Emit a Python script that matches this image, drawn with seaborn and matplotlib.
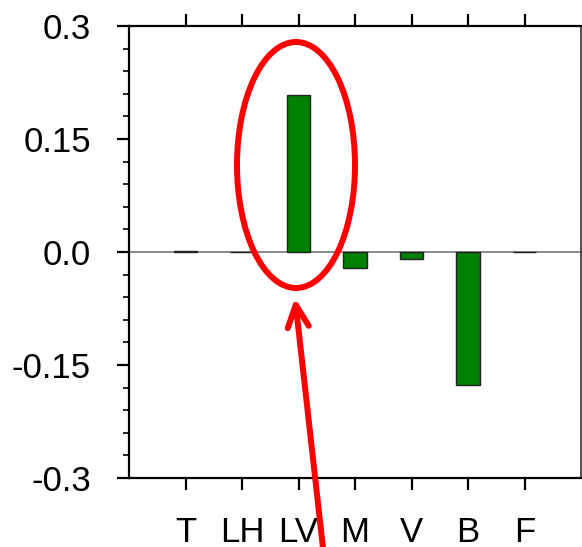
import numpy as np
import pandas as pd
import seaborn as sns
import matplotlib.pyplot as plt
from matplotlib.patches import Ellipse, FancyArrowPatch
from matplotlib.ticker import MultipleLocator

categories = ["T", "LH", "LV", "M", "V", "B", "F"]
values = [0.001, 0.0, 0.209, -0.021, -0.009, -0.177, -0.0005]
y_ticks = [-0.3, -0.15, 0.0, 0.15, 0.3]
y_labels = ["-0.3", "-0.15", "0.0", "0.15", "0.3"]

df = pd.DataFrame({"term": categories, "value": values})

sns.set_style("ticks")
plt.rcParams["font.family"] = ["Liberation Sans", "DejaVu Sans"]
plt.rcParams["text.color"] = "black"
plt.rcParams["xtick.color"] = "black"
plt.rcParams["ytick.color"] = "black"
plt.rcParams["xtick.labelcolor"] = "black"
plt.rcParams["ytick.labelcolor"] = "black"

W, H = 582, 547
fig = plt.figure(figsize=(W / 100, H / 100), dpi=100)
ax = fig.add_axes([129 / W, 1 - 478 / H, 452 / W, 452 / H])

sns.barplot(data=df, x="term", y="value", color="green", saturation=1,
            edgecolor="#222222", linewidth=1.0, width=0.42, ax=ax)

ax.axhline(0, color="#777777", lw=1.2, zorder=0.5)

ax.set_xlim(-1, 7)
ax.set_ylim(-0.3, 0.3)
ax.set_yticks(y_ticks)
ax.set_yticklabels(y_labels)
ax.yaxis.set_minor_locator(MultipleLocator(0.03))
ax.set_xlabel("")
ax.set_ylabel("")

for s in ax.spines.values():
    s.set_visible(True)
    s.set_linewidth(1.6)
    s.set_color("black")
ax.spines["right"].set_linewidth(1.2)
ax.spines["right"].set_color("#333333")

ax.tick_params(axis="x", which="major", direction="out", length=8.5, width=1.6,
               top=True, bottom=True, labelsize=25, pad=19)
ax.tick_params(axis="y", which="major", direction="out", length=8.5, width=1.6,
               left=True, right=False, labelsize=25, pad=19)
ax.tick_params(axis="y", which="minor", direction="out", length=4, width=1.2, left=True, right=False)

# red annotation: ellipse around LV and arrow pointing to it
ell = Ellipse((296 / W, 1 - 165 / H), 118 / W, 246 / H, transform=fig.transFigure,
              fill=False, edgecolor="red", lw=4.3, zorder=10)
fig.add_artist(ell)
arr = FancyArrowPatch((323 / W, 1 - 548 / H), (295 / W, 1 - 298 / H),
                      transform=fig.transFigure, color="red", lw=4.3,
                      arrowstyle="->,head_length=0.8,head_width=0.38",
                      mutation_scale=20, shrinkA=0, shrinkB=0,
                      capstyle="round", joinstyle="round", zorder=10)
fig.add_artist(arr)

fig.savefig("out.png", dpi=100)
